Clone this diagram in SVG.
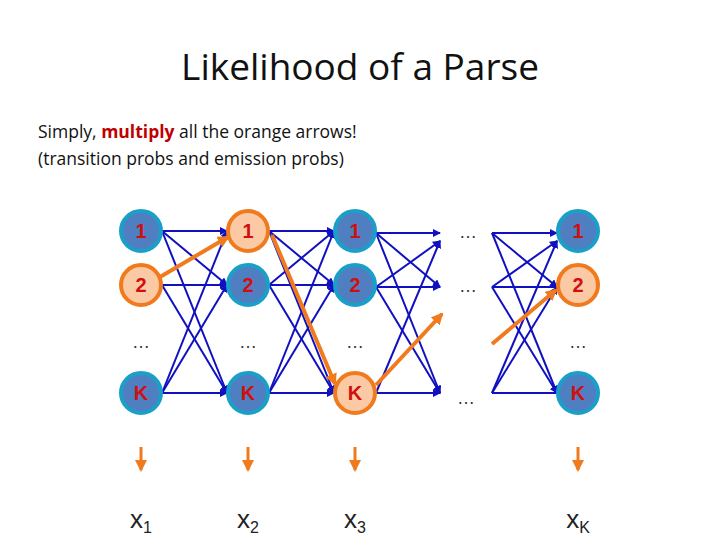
<svg xmlns="http://www.w3.org/2000/svg" width="720" height="540" viewBox="0 0 720 540">
<style>
.n{fill:#4f7fc0;stroke:#1aa0c8;stroke-width:4}
.o{fill:#fbc9a4;stroke:#f07a1e;stroke-width:4}
.t{font-family:"Liberation Sans",Arial,sans-serif;font-size:20px;font-weight:bold;fill:#d01010;text-anchor:middle}
.d{font-family:"Liberation Sans",Arial,sans-serif;font-size:18px;fill:#333;text-anchor:middle}
.b{stroke:#1010c0;stroke-width:2;fill:none;marker-end:url(#ab)}
.bl{stroke:#1010c0;stroke-width:2;fill:none}
.r{stroke:#f07a1e;stroke-width:4;fill:none;marker-end:url(#ao)}
.e{stroke:#f07a1e;stroke-width:3;fill:none;marker-end:url(#ao)}
.x{font-family:"Liberation Sans",Arial,sans-serif;font-size:26px;fill:#222;text-anchor:middle}
</style>
<defs>
<marker id="ab" markerWidth="8" markerHeight="8" refX="7" refY="4" orient="auto" markerUnits="userSpaceOnUse"><path d="M0,0L8,4L0,8z" fill="#1010c0"/></marker>
<marker id="ao" markerWidth="12" markerHeight="12" refX="10" refY="6" orient="auto" markerUnits="userSpaceOnUse"><path d="M0,0L12,6L0,12z" fill="#f07a1e"/></marker>
</defs>
<rect width="720" height="540" fill="#fff"/>
<text x="360" y="80" font-family="Open Sans,sans-serif" font-size="37" fill="#111" text-anchor="middle">Likelihood of a Parse</text>
<text x="38" y="138" font-family="Open Sans,sans-serif" font-size="17.5" fill="#111">Simply, <tspan fill="#c00000" font-weight="bold">multiply</tspan> all the orange arrows!</text>
<text x="38" y="165" font-family="Open Sans,sans-serif" font-size="17.5" fill="#111">(transition probs and emission probs)</text>
<g id="connectors">
<line class="b" x1="162" y1="231" x2="227" y2="231"/>
<line class="b" x1="162" y1="231" x2="227" y2="285"/>
<line class="b" x1="162" y1="231" x2="227" y2="393"/>
<line class="b" x1="162" y1="285" x2="227" y2="285"/>
<line class="b" x1="162" y1="285" x2="227" y2="393"/>
<line class="b" x1="162" y1="393" x2="227" y2="393"/>
<line class="b" x1="162" y1="393" x2="227" y2="231"/>
<line class="b" x1="162" y1="393" x2="227" y2="285"/>
<line class="b" x1="269" y1="231" x2="334" y2="231"/>
<line class="b" x1="269" y1="231" x2="334" y2="285"/>
<line class="b" x1="269" y1="231" x2="334" y2="393"/>
<line class="b" x1="269" y1="285" x2="334" y2="231"/>
<line class="b" x1="269" y1="285" x2="334" y2="285"/>
<line class="b" x1="269" y1="285" x2="334" y2="393"/>
<line class="b" x1="269" y1="393" x2="334" y2="393"/>
<line class="b" x1="269" y1="393" x2="334" y2="231"/>
<line class="b" x1="269" y1="393" x2="334" y2="285"/>
<line class="b" x1="376" y1="233" x2="440" y2="233"/>
<line class="b" x1="376" y1="233" x2="440" y2="287"/>
<line class="b" x1="376" y1="233" x2="440" y2="393"/>
<line class="b" x1="376" y1="287" x2="440" y2="287"/>
<line class="b" x1="376" y1="287" x2="440" y2="241"/>
<line class="b" x1="376" y1="287" x2="440" y2="393"/>
<line class="b" x1="376" y1="393" x2="440" y2="393"/>
<line class="b" x1="376" y1="393" x2="440" y2="241"/>
<line class="b" x1="492" y1="233" x2="557" y2="233"/>
<line class="b" x1="492" y1="233" x2="557" y2="287"/>
<line class="b" x1="492" y1="233" x2="557" y2="393"/>
<line class="b" x1="492" y1="287" x2="557" y2="241"/>
<line class="b" x1="492" y1="287" x2="557" y2="393"/>
<line class="b" x1="492" y1="393" x2="557" y2="241"/>
<line class="b" x1="492" y1="393" x2="557" y2="287"/>
<line class="bl" x1="492" y1="287" x2="557" y2="287"/>
<line class="bl" x1="492" y1="393" x2="557" y2="393"/>
<line class="r" x1="160" y1="277" x2="228" y2="237"/>
<line class="r" x1="272" y1="235" x2="335" y2="384"/>
<line class="r" x1="376" y1="385" x2="442" y2="314"/>
<line class="r" x1="492" y1="344" x2="556" y2="290"/>
<line class="e" x1="141" y1="447" x2="141" y2="470"/>
<line class="e" x1="248" y1="447" x2="248" y2="470"/>
<line class="e" x1="355" y1="447" x2="355" y2="470"/>
<line class="e" x1="578" y1="447" x2="578" y2="470"/>
</g>
<g id="c1r1"><circle class="n" cx="141" cy="231" r="20"/><text class="t" x="141" y="238">1</text></g>
<g id="c1r2"><circle class="o" cx="141" cy="285" r="20"/><text class="t" x="141" y="292">2</text></g>
<g id="c1rd"><text class="d" x="141" y="348">…</text></g>
<g id="c1rk"><circle class="n" cx="141" cy="393" r="20"/><text class="t" x="141" y="400">K</text></g>
<g id="c2r1"><circle class="o" cx="248" cy="231" r="20"/><text class="t" x="248" y="238">1</text></g>
<g id="c2r2"><circle class="n" cx="248" cy="285" r="20"/><text class="t" x="248" y="292">2</text></g>
<g id="c2rd"><text class="d" x="248" y="348">…</text></g>
<g id="c2rk"><circle class="n" cx="248" cy="393" r="20"/><text class="t" x="248" y="400">K</text></g>
<g id="c3r1"><circle class="n" cx="355" cy="231" r="20"/><text class="t" x="355" y="238">1</text></g>
<g id="c3r2"><circle class="n" cx="355" cy="285" r="20"/><text class="t" x="355" y="292">2</text></g>
<g id="c3rd"><text class="d" x="355" y="348">…</text></g>
<g id="c3rk"><circle class="o" cx="355" cy="393" r="20"/><text class="t" x="355" y="400">K</text></g>
<g id="c4"><text class="d" x="468" y="238">…</text><text class="d" x="468" y="292">…</text><text class="d" x="466" y="404">…</text></g>
<g id="c5r1"><circle class="n" cx="578" cy="231" r="20"/><text class="t" x="578" y="238">1</text></g>
<g id="c5r2"><circle class="o" cx="578" cy="285" r="20"/><text class="t" x="578" y="292">2</text></g>
<g id="c5rd"><text class="d" x="578" y="348">…</text></g>
<g id="c5rk"><circle class="n" cx="578" cy="393" r="20"/><text class="t" x="578" y="400">K</text></g>
<g id="emis">
<text class="x" x="141" y="528">x<tspan font-size="16" dy="5">1</tspan></text>
<text class="x" x="248" y="528">x<tspan font-size="16" dy="5">2</tspan></text>
<text class="x" x="355" y="528">x<tspan font-size="16" dy="5">3</tspan></text>
<text class="x" x="578" y="528">x<tspan font-size="16" dy="5">K</tspan></text>
</g>
</svg>
